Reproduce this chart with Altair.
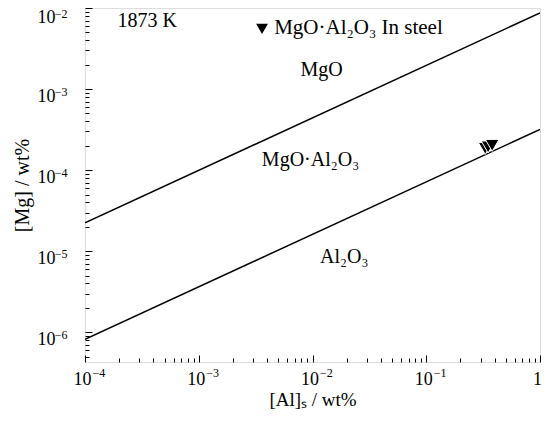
import altair as alt
import pandas as pd

# Boundary lines (endpoints)
al_ends = [1e-4, 1.0]
mg_mgo_spinel = [2.24e-5, 8.7e-3]
mg_spinel_al2o3 = [8.2e-7, 3.18e-4]

# Inclusion measurements "MgO·Al2O3 In steel"
steel_al = [0.33, 0.35, 0.38]
steel_mg = [1.85e-4, 1.93e-4, 2.02e-4]

# Region / annotation labels
label_text = ["1873 K", "MgO", "MgO·Al₂O₃", "Al₂O₃"]
label_x = [1.93e-4, 1.2e-2, 9.6e-3, 1.9e-2]
label_y = [7.0e-3, 1.73e-3, 1.33e-4, 8.5e-6]
label_align = ["left", "center", "center", "center"]

legend_text = ["MgO·Al₂O₃ In steel"]
legend_x = [3.6e-3]
legend_text_x = [4.6e-3]
legend_y = [5.6e-3]

x_domain = [1e-4, 1.0]
y_domain = [4.3e-7, 1e-2]

FONT = "Liberation Serif"

lines_df = pd.DataFrame({
    "al": al_ends + al_ends,
    "mg": mg_mgo_spinel + mg_spinel_al2o3,
    "b": ["upper", "upper", "lower", "lower"],
})
pts_df = pd.DataFrame({"al": steel_al, "mg": steel_mg})
lab_df = pd.DataFrame({"t": label_text, "al": label_x, "mg": label_y, "a": label_align})
leg_df = pd.DataFrame({"t": legend_text, "al": legend_x, "tx": legend_text_x, "mg": legend_y})

base_expr = "datum.value >= 1 ? '1' : '10'"
exp_expr = "datum.value >= 1 ? '' : '−' + round(-log(datum.value)/LN10)"

major_x = [1e-4, 1e-3, 1e-2, 1e-1, 1.0]
major_y = [1e-6, 1e-5, 1e-4, 1e-3, 1e-2]
minor_x = [m * d for d in [1e-4, 1e-3, 1e-2, 1e-1] for m in range(2, 10)]
minor_y = [m * d for d in [1e-7, 1e-6, 1e-5, 1e-4, 1e-3] for m in range(2, 10)]

xs = alt.Scale(type="log", domain=x_domain, nice=False)
ys = alt.Scale(type="log", domain=y_domain, nice=False)

common = dict(grid=False, domain=False, labelFont=FONT, labelColor="black",
              tickColor="black", labelFlush=False, labelOverlap=False)

x_major_axis = alt.Axis(values=major_x, labelExpr=base_expr, title="[Al]ₛ / wt%",
                        tickSize=7, offset=-7, labelPadding=8, labelFontSize=18,
                        labelOffset=-3, titleFont=FONT, titleFontSize=19,
                        titleFontWeight="normal", titleColor="black",
                        titlePadding=2, orient="bottom", **common)
y_major_axis = alt.Axis(values=major_y, labelExpr=base_expr, title="[Mg] / wt%",
                        tickSize=7, offset=-7, labelPadding=30, labelFontSize=18,
                        labelOffset={"condition": {"test": "datum.value > 0.005", "value": 9},
                                     "value": 7},
                        titleFont=FONT, titleFontSize=20,
                        titleFontWeight="normal", titleColor="black",
                        titlePadding=5, orient="left", **common)
x_minor_axis = alt.Axis(values=minor_x, labels=False, title=None, grid=False,
                        domain=False, tickSize=4, offset=-4, tickColor="black",
                        orient="bottom")
y_minor_axis = alt.Axis(values=minor_y, labels=False, title=None, grid=False,
                        domain=False, tickSize=4, offset=-4, tickColor="black",
                        orient="left")
x_exp_axis = alt.Axis(values=major_x, labelExpr=exp_expr, title=None, ticks=False,
                      labelPadding=5, labelFontSize=12, labelAlign="left",
                      labelOffset=7, orient="bottom", **common)
y_exp_axis = alt.Axis(values=major_y, labelExpr=exp_expr, title=None, ticks=False,
                      labelPadding=18, labelFontSize=12, labelAlign="right",
                      labelOffset={"condition": {"test": "datum.value > 0.005", "value": 5},
                                   "value": 2},
                      orient="left", **common)

lines = alt.Chart(lines_df).mark_line(color="black", strokeWidth=1.5, clip=True).encode(
    x=alt.X("al:Q", scale=xs, axis=x_major_axis),
    y=alt.Y("mg:Q", scale=ys, axis=y_major_axis),
    detail="b:N",
)

points = alt.Chart(pts_df).mark_point(shape="triangle-down", filled=True, fill="black",
                                      stroke="white", strokeWidth=1, size=190,
                                      opacity=1).encode(
    x=alt.X("al:Q", scale=xs, axis=x_minor_axis),
    y=alt.Y("mg:Q", scale=ys, axis=y_minor_axis),
)

labels_left = alt.Chart(lab_df[lab_df.a == "left"]).mark_text(
    font=FONT, fontSize=20, color="black", align="left", baseline="middle").encode(
    x=alt.X("al:Q", scale=xs, axis=x_exp_axis),
    y=alt.Y("mg:Q", scale=ys, axis=y_exp_axis), text="t:N")
labels_center = alt.Chart(lab_df[lab_df.a == "center"]).mark_text(
    font=FONT, fontSize=20, color="black", align="center", baseline="middle").encode(
    x=alt.X("al:Q", scale=xs, axis=None), y=alt.Y("mg:Q", scale=ys, axis=None), text="t:N")

leg_pt = alt.Chart(leg_df).mark_point(shape="triangle-down", filled=True, fill="black",
                                      stroke="black", size=70, opacity=1).encode(
    x=alt.X("al:Q", scale=xs, axis=None), y=alt.Y("mg:Q", scale=ys, axis=None))
leg_txt = alt.Chart(leg_df).mark_text(font=FONT, fontSize=21, color="black",
                                      align="left", baseline="middle").encode(
    x=alt.X("tx:Q", scale=xs, axis=None), y=alt.Y("mg:Q", scale=ys, axis=None), text="t:N")

chart = alt.layer(lines, points, labels_left, labels_center, leg_pt, leg_txt).resolve_axis(
    x="independent", y="independent"
).properties(
    width=455, height=354,
    autosize=alt.AutoSizeParams(type="none"),
    padding={"left": 77, "top": 0, "right": 4, "bottom": 50},
).configure_view(stroke="black", strokeWidth=1.2).configure(background="white")

chart.save("out.html", embed_options={"renderer": "svg", "actions": False})
